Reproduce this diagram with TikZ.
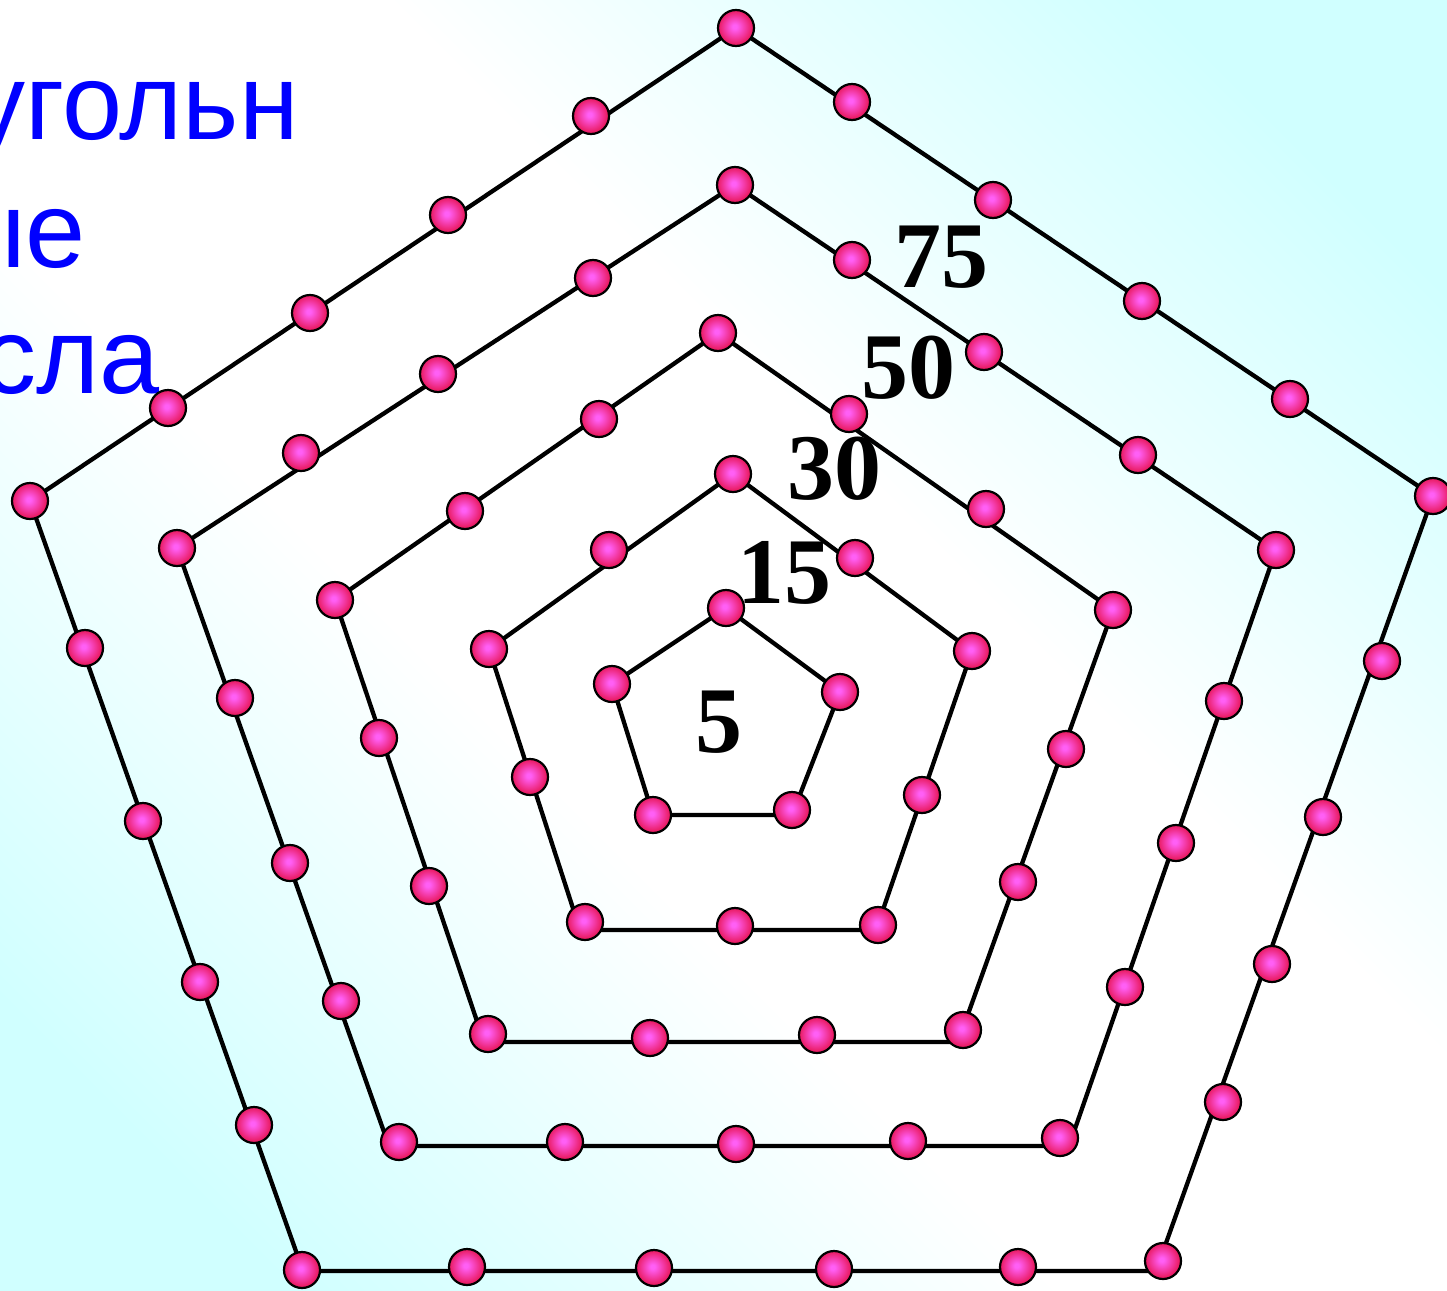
\documentclass[tikz,border=0pt]{standalone}
\usepackage{fontspec}
\setmainfont{Liberation Serif}
\newfontfamily\arialf{Liberation Sans}
\definecolor{bgcyan}{RGB}{208,255,255}
\definecolor{dotin}{RGB}{255,95,245}
\definecolor{dotout}{RGB}{232,22,88}
\definecolor{txtblue}{RGB}{0,0,255}
\pgfdeclareradialshading{dotshade}{\pgfpoint{-2bp}{2bp}}{color(0bp)=(dotin); color(3bp)=(dotin); color(25bp)=(dotout); color(50bp)=(dotout)}
\pgfdeclareverticalshading{bgdiag}{100bp}{color(0bp)=(bgcyan); color(22bp)=(bgcyan); color(42bp)=(white); color(58bp)=(white); color(78bp)=(bgcyan); color(100bp)=(bgcyan)}
\begin{document}
\begin{tikzpicture}[x=1pt,y=-1pt,
  edge/.style={line width=4.3pt, line join=miter},
  ball/.style={circle, draw=black, line width=2.2pt, minimum size=36pt, inner sep=0pt, shade, shading=dotshade},
  num/.style={font=\fontsize{94}{94}\selectfont\bfseries, inner sep=0pt, anchor=base},
  word/.style={font=\arialf\fontsize{108}{110}\selectfont, text=txtblue, inner sep=0pt, anchor=base east}]
\useasboundingbox (0,0) rectangle (1447,1290);
\begin{scope}
\clip (0,0) rectangle (1447,1290);
\shade[shading=bgdiag, shading angle=-45] (0,0) rectangle (1447,1290);
\end{scope}
% text
\node[word] (w1) at (299,139) {угольн};
\node[word] (w2) at (86,267) {ые};
\node[word] (w3) at (160,393) {сла};
% numbers
\node[num] (n75) at (941,287) {75};
\node[num] (n50) at (908,398) {50};
\node[num] (n30) at (834,499) {30};
\node[num] (n15) at (784,603) {15};
\node[num] (n5) at (719,752) {5};
% pentagon outlines
\coordinate (v1a) at (726,608); \coordinate (v1b) at (840,692); \coordinate (v1c) at (792,815); \coordinate (v1d) at (653,815); \coordinate (v1e) at (612,684);
\coordinate (v2a) at (733,474); \coordinate (v2b) at (972,651); \coordinate (v2c) at (876,930); \coordinate (v2d) at (580,930); \coordinate (v2e) at (489,649);
\coordinate (v3a) at (718,333); \coordinate (v3b) at (1113,610); \coordinate (v3c) at (958,1042); \coordinate (v3d) at (484,1042); \coordinate (v3e) at (335,600);
\coordinate (v4a) at (735,185); \coordinate (v4b) at (1276,550); \coordinate (v4c) at (1069,1146); \coordinate (v4d) at (389,1146); \coordinate (v4e) at (177,548);
\coordinate (v5a) at (736,28); \coordinate (v5b) at (1433,496); \coordinate (v5c) at (1156,1271); \coordinate (v5d) at (303,1271); \coordinate (v5e) at (30,501);
\foreach \k in {1,...,5}{
  \draw[edge] (v\k a) -- (v\k b) -- (v\k c) -- (v\k d) -- (v\k e) -- cycle;
}
% dots
\foreach \p [count=\i] in {(726,608),(840,692),(792,810),(653,815),(612,684)}
  \node[ball] (d1-\i) at \p {};
\foreach \p [count=\i] in {(733,474),(855,558),(972,651),(922,795),(878,925),(735,926),(585,922),(530,777),(489,649),(609,550)}
  \node[ball] (d2-\i) at \p {};
\foreach \p [count=\i] in {(718,333),(849,414),(986,509),(1113,610),(1066,749),(1018,882),(963,1030),(817,1035),(650,1038),(488,1034),(429,886),(379,738),(335,600),(465,511),(599,419)}
  \node[ball] (d3-\i) at \p {};
\foreach \p [count=\i] in {(735,185),(852,260),(984,352),(1138,455),(1276,550),(1224,701),(1176,843),(1125,987),(1060,1138),(908,1141),(736,1144),(565,1142),(399,1142),(341,1001),(290,863),(235,698),(177,548),(301,453),(438,374),(593,278)}
  \node[ball] (d4-\i) at \p {};
\foreach \p [count=\i] in {(736,28),(852,102),(993,200),(1142,301),(1290,399),(1433,496),(1382,661),(1323,817),(1272,964),(1223,1102),(1163,1261),(1018,1267),(834,1269),(654,1268),(467,1267),(302,1270),(254,1125),(200,982),(143,821),(85,648),(30,501),(168,408),(310,313),(448,215),(591,116)}
  \node[ball] (d5-\i) at \p {};
\end{tikzpicture}
\end{document}
